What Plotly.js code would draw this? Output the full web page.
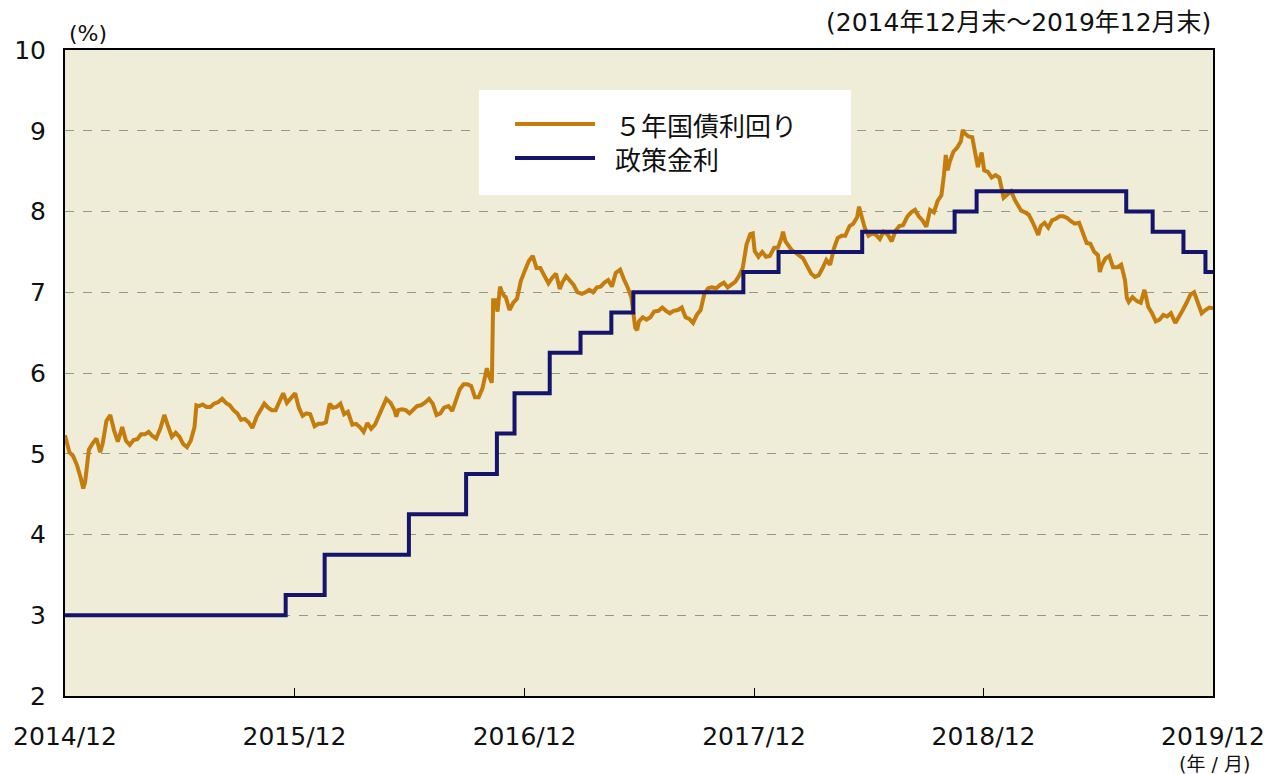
<!DOCTYPE html>
<html>
<head>
<meta charset="utf-8">
<script src="https://cdn.plot.ly/plotly-3.0.1.min.js"></script>
<style>html,body{margin:0;padding:0;background:#fff;}#chart{width:1285px;height:774px;}</style>
</head>
<body>
<div id="chart"></div>
<script>
// 5年国債利回り (%)
const yieldDates = [
"2014-12-31","2015-01-07","2015-01-13","2015-01-19","2015-01-25","2015-01-29","2015-02-01","2015-02-07","2015-02-13","2015-02-19","2015-02-25",
"2015-03-01","2015-03-07","2015-03-13","2015-03-19","2015-03-25","2015-04-01","2015-04-07","2015-04-13","2015-04-19","2015-04-25",
"2015-05-01","2015-05-07","2015-05-13","2015-05-19","2015-05-25","2015-06-01","2015-06-07","2015-06-13","2015-06-19","2015-06-25",
"2015-07-01","2015-07-07","2015-07-13","2015-07-19","2015-07-25","2015-07-28","2015-08-01","2015-08-07","2015-08-13","2015-08-19","2015-08-25",
"2015-09-01","2015-09-07","2015-09-13","2015-09-19","2015-09-25","2015-10-01","2015-10-07","2015-10-13","2015-10-19","2015-10-25",
"2015-11-01","2015-11-07","2015-11-13","2015-11-19","2015-11-25","2015-12-01","2015-12-07","2015-12-13","2015-12-19","2015-12-25",
"2016-01-01","2016-01-07","2016-01-13","2016-01-19","2016-01-25","2016-02-01","2016-02-07","2016-02-13","2016-02-19","2016-02-25",
"2016-03-01","2016-03-07","2016-03-13","2016-03-19","2016-03-25","2016-04-01","2016-04-07","2016-04-13","2016-04-19","2016-04-25",
"2016-05-01","2016-05-07","2016-05-13","2016-05-19","2016-05-25","2016-06-01","2016-06-07","2016-06-10","2016-06-13","2016-06-19","2016-06-25",
"2016-07-01","2016-07-07","2016-07-13","2016-07-19","2016-07-25","2016-08-01","2016-08-07","2016-08-13","2016-08-19","2016-08-25",
"2016-09-01","2016-09-07","2016-09-13","2016-09-19","2016-09-25","2016-10-01","2016-10-07","2016-10-13","2016-10-19","2016-10-25",
"2016-11-01","2016-11-04","2016-11-09","2016-11-11","2016-11-15","2016-11-18","2016-11-22","2016-11-25","2016-11-29",
"2016-12-01","2016-12-07","2016-12-13","2016-12-19","2016-12-25",
"2017-01-01","2017-01-07","2017-01-13","2017-01-19","2017-01-25","2017-02-01","2017-02-07","2017-02-13","2017-02-19","2017-02-25",
"2017-03-01","2017-03-07","2017-03-13","2017-03-19","2017-03-25","2017-04-01","2017-04-07","2017-04-13","2017-04-19","2017-04-25",
"2017-05-01","2017-05-07","2017-05-13","2017-05-19","2017-05-25","2017-06-01","2017-06-07","2017-06-13","2017-06-19","2017-06-22","2017-06-25","2017-06-28",
"2017-07-01","2017-07-07","2017-07-13","2017-07-19","2017-07-25","2017-08-01","2017-08-07","2017-08-13","2017-08-19","2017-08-25",
"2017-09-01","2017-09-07","2017-09-13","2017-09-19","2017-09-25","2017-10-01","2017-10-07","2017-10-13","2017-10-19","2017-10-25",
"2017-11-01","2017-11-07","2017-11-13","2017-11-19","2017-11-25","2017-12-01","2017-12-07","2017-12-13","2017-12-19","2017-12-25","2017-12-29",
"2018-01-01","2018-01-07","2018-01-13","2018-01-19","2018-01-25","2018-02-01","2018-02-07","2018-02-13","2018-02-15","2018-02-19","2018-02-25",
"2018-03-01","2018-03-07","2018-03-13","2018-03-19","2018-03-25","2018-04-01","2018-04-07","2018-04-13","2018-04-19","2018-04-25",
"2018-05-01","2018-05-07","2018-05-13","2018-05-19","2018-05-25","2018-06-01","2018-06-07","2018-06-13","2018-06-16","2018-06-19","2018-06-25",
"2018-07-01","2018-07-07","2018-07-13","2018-07-19","2018-07-25","2018-08-01","2018-08-07","2018-08-13","2018-08-19","2018-08-25",
"2018-09-01","2018-09-07","2018-09-13","2018-09-19","2018-09-25","2018-10-01","2018-10-07","2018-10-13","2018-10-19","2018-10-25","2018-10-29",
"2018-11-01","2018-11-04","2018-11-07","2018-11-13","2018-11-19","2018-11-25","2018-11-28",
"2018-12-01","2018-12-07","2018-12-13","2018-12-19","2018-12-22","2018-12-25","2018-12-28",
"2019-01-01","2019-01-07","2019-01-13","2019-01-19","2019-01-25","2019-02-01","2019-02-07","2019-02-13","2019-02-19","2019-02-25",
"2019-03-01","2019-03-07","2019-03-13","2019-03-19","2019-03-25","2019-03-28","2019-04-01","2019-04-07","2019-04-13","2019-04-19","2019-04-25",
"2019-05-01","2019-05-07","2019-05-13","2019-05-19","2019-05-25","2019-06-01","2019-06-07","2019-06-13","2019-06-19","2019-06-25",
"2019-07-01","2019-07-04","2019-07-07","2019-07-13","2019-07-19","2019-07-25","2019-08-01","2019-08-07","2019-08-13","2019-08-16","2019-08-19","2019-08-25",
"2019-09-01","2019-09-07","2019-09-13","2019-09-19","2019-09-25","2019-10-01","2019-10-07","2019-10-13","2019-10-19","2019-10-25",
"2019-11-01","2019-11-07","2019-11-13","2019-11-19","2019-11-25","2019-12-01","2019-12-07","2019-12-13","2019-12-19","2019-12-25","2019-12-31"
];
const yieldValues = [
5.23,5.02,4.97,4.86,4.70,4.57,4.65,5.05,5.13,5.19,5.02,
5.13,5.41,5.48,5.29,5.15,5.33,5.16,5.11,5.17,5.18,
5.24,5.24,5.27,5.22,5.19,5.32,5.48,5.34,5.21,5.26,
5.21,5.12,5.08,5.16,5.33,5.60,5.59,5.61,5.58,5.58,5.62,
5.64,5.68,5.63,5.60,5.54,5.50,5.42,5.43,5.39,5.32,
5.46,5.54,5.62,5.57,5.54,5.54,5.64,5.75,5.63,5.69,
5.75,5.57,5.47,5.50,5.49,5.34,5.37,5.37,5.39,5.62,
5.57,5.58,5.62,5.49,5.52,5.36,5.37,5.33,5.27,5.38,
5.31,5.36,5.47,5.59,5.68,5.63,5.54,5.46,5.54,5.55,5.54,
5.50,5.54,5.59,5.60,5.63,5.68,5.62,5.48,5.50,5.57,
5.59,5.53,5.65,5.80,5.86,5.86,5.84,5.70,5.70,5.81,
6.06,5.97,5.88,6.90,6.90,6.76,7.07,7.00,6.95,
6.94,6.78,6.87,6.92,7.14,
7.28,7.39,7.45,7.30,7.30,7.19,7.11,7.18,7.23,7.04,
7.12,7.20,7.15,7.09,7.00,6.98,7.00,7.03,7.00,7.06,
7.07,7.12,7.15,7.07,7.24,7.28,7.16,7.06,6.93,6.73,6.56,6.53,
6.64,6.69,6.66,6.69,6.76,6.77,6.81,6.77,6.74,6.77,
6.78,6.81,6.69,6.67,6.62,6.72,6.78,6.98,7.05,7.06,
7.05,7.09,7.12,7.06,7.10,7.13,7.20,7.30,7.59,7.72,7.73,
7.51,7.44,7.50,7.44,7.45,7.55,7.55,7.68,7.75,7.63,7.56,
7.52,7.49,7.46,7.42,7.33,7.23,7.19,7.21,7.30,7.40,
7.34,7.54,7.67,7.70,7.70,7.82,7.85,7.93,8.06,7.96,7.80,
7.70,7.73,7.71,7.66,7.75,7.71,7.63,7.76,7.82,7.83,
7.94,7.99,8.02,7.94,7.89,7.81,8.02,7.99,8.13,8.20,8.45,
8.70,8.51,8.61,8.74,8.79,8.87,9.01,
8.97,8.93,8.92,8.70,8.55,8.64,8.73,
8.51,8.49,8.42,8.45,8.42,8.17,8.21,8.25,8.14,8.05,
8.01,7.99,7.96,7.87,7.76,7.71,7.82,7.86,7.80,7.89,7.91,
7.94,7.94,7.92,7.88,7.85,7.86,7.75,7.61,7.60,7.50,
7.46,7.25,7.33,7.42,7.45,7.31,7.31,7.34,7.15,6.93,6.88,6.94,
6.89,6.87,7.03,6.82,6.74,6.64,6.66,6.72,6.70,6.74,
6.62,6.69,6.78,6.87,6.97,7.00,6.88,6.74,6.78,6.81,6.80
];

// 政策金利 (%)
const policyDates = [
"2014-12-31","2015-12-17","2016-02-17","2016-06-30","2016-09-29","2016-11-17","2016-12-15",
"2017-02-09","2017-03-30","2017-05-18","2017-06-22","2017-12-14","2018-02-08","2018-06-21",
"2018-11-15","2018-12-20","2019-08-15","2019-09-26","2019-11-14","2019-12-19","2019-12-31"
];
const policyValues = [
3.00,3.25,3.75,4.25,4.75,5.25,5.75,
6.25,6.50,6.75,7.00,7.25,7.50,7.75,
8.00,8.25,8.00,7.75,7.50,7.25,7.25
];

const seriesNames = ["５年国債利回り", "政策金利"];
const tickDates = ["2014-12-31","2015-12-31","2016-12-31","2017-12-31","2018-12-31","2019-12-31"];
const tickLabels = ["2014/12","2015/12","2016/12","2017/12","2018/12","2019/12"];

const FONT = "'DejaVu Sans', 'Noto Sans CJK JP', sans-serif";
const CJK = "'Noto Sans CJK JP', 'DejaVu Sans', sans-serif";
const ORANGE = "#c47c0c";
const NAVY = "#15146c";

const traces = [
  {x: yieldDates, y: yieldValues, type: "scatter", mode: "lines", name: seriesNames[0],
   line: {color: ORANGE, width: 4}, showlegend: false},
  {x: policyDates, y: policyValues, type: "scatter", mode: "lines", name: seriesNames[1],
   line: {color: NAVY, width: 4, shape: "hv"}, showlegend: false}
];

const layout = {
  width: 1285, height: 774,
  margin: {l: 65, r: 72, t: 50, b: 78},
  paper_bgcolor: "#ffffff",
  plot_bgcolor: "#efecd8",
  font: {family: FONT, color: "#111", size: 26},
  xaxis: {
    type: "date",
    range: ["2014-12-31", "2019-12-31"],
    tickmode: "array", tickvals: tickDates, ticktext: tickLabels,
    ticks: "inside", ticklen: 8, tickwidth: 1, tickcolor: "#000",
    showline: true, linecolor: "#000", linewidth: 2, mirror: true,
    showgrid: false, zeroline: false,
    tickfont: {family: FONT, size: 25, color: "#111"},
    ticklabelstandoff: 17
  },
  yaxis: {
    range: [2, 10], dtick: 1, tick0: 2,
    ticks: "", showline: true, linecolor: "#000", linewidth: 2, mirror: true,
    showgrid: true, gridcolor: "#8e9a8a", gridwidth: 1, griddash: "dash",
    zeroline: false,
    tickfont: {family: FONT, size: 25, color: "#111"},
    ticklabelstandoff: 12
  },
  shapes: [
    {type: "rect", xref: "paper", yref: "paper", x0: 0.3606, x1: 0.6847, y0: 0.7755, y1: 0.9381,
     fillcolor: "#ffffff", line: {width: 0}, layer: "above"},
    {type: "line", xref: "paper", yref: "paper", x0: 0.392, x1: 0.4617, y0: 0.8854, y1: 0.8854,
     line: {color: ORANGE, width: 4}, layer: "above"},
    {type: "line", xref: "paper", yref: "paper", x0: 0.392, x1: 0.4617, y0: 0.8328, y1: 0.8328,
     line: {color: NAVY, width: 4}, layer: "above"}
  ],
  annotations: [
    {xref: "paper", yref: "paper", x: 0.4774, y: 0.8854, xanchor: "left", yanchor: "middle",
     text: seriesNames[0], showarrow: false, font: {family: CJK, size: 26, color: "#111"}},
    {xref: "paper", yref: "paper", x: 0.4774, y: 0.8328, xanchor: "left", yanchor: "middle",
     text: seriesNames[1], showarrow: false, font: {family: CJK, size: 26, color: "#111"}},
    {xref: "paper", yref: "paper", x: 0.02, y: 1.026, xanchor: "center", yanchor: "middle",
     text: "(%)", showarrow: false, font: {family: FONT, size: 22, color: "#111"}},
    {xref: "paper", yref: "paper", x: 1.0, y: 1.0433, xanchor: "right", yanchor: "middle",
     text: "(2014年12月末～2019年12月末)", showarrow: false, font: {family: FONT, size: 25, color: "#111"}},
    {xref: "paper", yref: "paper", x: 1.0017, y: -0.106, xanchor: "center", yanchor: "middle",
     text: "(年 / 月)", showarrow: false, font: {family: FONT, size: 19, color: "#111"}}
  ]
};

Plotly.newPlot("chart", traces, layout, {displayModeBar: false, staticPlot: true});
</script>
</body>
</html>
